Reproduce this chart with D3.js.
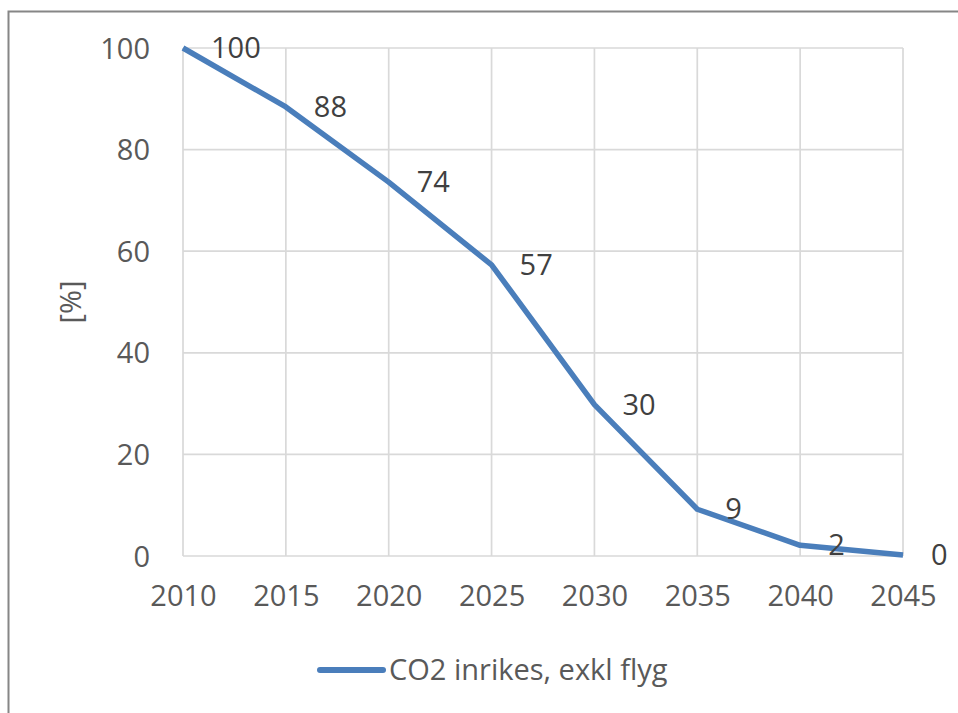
<!DOCTYPE html>
<html>
<head>
<meta charset="utf-8">
<script src="https://cdn.jsdelivr.net/npm/d3@7"></script>
<style>
  html, body { margin: 0; padding: 0; background: #fff; }
  svg { display: block; }
</style>
</head>
<body>
<script>
const years = [2010, 2015, 2020, 2025, 2030, 2035, 2040, 2045];
const values = [100, 88.4, 73.6, 57.3, 29.8, 9.2, 2.1, 0.2];
const yTicks = [0, 20, 40, 60, 80, 100];
const seriesName = "CO2 inrikes, exkl flyg";
const yTitle = "[%]";

(function () {
const W = 958, H = 713;
const FONT = "'Open Sans', 'Noto Sans', sans-serif";
const FS = 29;
const pLeft = 183, pRight = 903, pTop = 48, pBottom = 556;

const svg = d3.select("body").append("svg").attr("width", W).attr("height", H);
svg.append("rect").attr("width", W).attr("height", H).attr("fill", "#fff");

// chart border
svg.append("rect")
  .attr("x", 8.5).attr("y", 11.5).attr("width", 960).attr("height", 720)
  .attr("fill", "none").attr("stroke", "#868686").attr("stroke-width", 2);

const x = d3.scaleLinear().domain([2010, 2045]).range([pLeft, pRight]);
const y = d3.scaleLinear().domain([0, 100]).range([pBottom, pTop]);

// gridlines
svg.append("g").selectAll("line").data(yTicks).join("line")
  .attr("x1", pLeft).attr("x2", pRight)
  .attr("y1", d => y(d)).attr("y2", d => y(d))
  .attr("stroke", "#d9d9d9").attr("stroke-width", 1.7);
svg.append("g").selectAll("line").data(years).join("line")
  .attr("x1", d => x(d)).attr("x2", d => x(d))
  .attr("y1", y(0)).attr("y2", y(100))
  .attr("stroke", "#d9d9d9").attr("stroke-width", 1.7);

// y axis labels
const yAxis = svg.append("g").attr("transform", `translate(${pLeft},0)`)
  .call(d3.axisLeft(y).tickValues(yTicks).tickSize(0).tickPadding(33).tickFormat(d3.format("d")));
yAxis.select(".domain").remove();
yAxis.selectAll("text").attr("font-family", FONT).attr("font-size", FS).attr("fill", "#595959")
  .attr("dy", "0.35em");

// x axis labels
const xAxis = svg.append("g").attr("transform", `translate(0,${pBottom})`)
  .call(d3.axisBottom(x).tickValues(years).tickSize(0).tickPadding(29).tickFormat(d3.format("d")));
xAxis.select(".domain").remove();
xAxis.selectAll("text").attr("font-family", FONT).attr("font-size", FS).attr("fill", "#595959");

// y title
svg.append("text")
  .attr("transform", `translate(71,${(pTop + pBottom) / 2}) rotate(-90)`)
  .attr("text-anchor", "middle").attr("dy", "0.35em")
  .attr("font-family", FONT).attr("font-size", FS).attr("fill", "#595959")
  .text(yTitle);

// line
const line = d3.line().x((d, i) => x(years[i])).y(d => y(d));
svg.append("path").datum(values)
  .attr("d", line).attr("fill", "none")
  .attr("stroke", "#4a7ebb").attr("stroke-width", 5.5)
  .attr("stroke-linejoin", "round").attr("stroke-linecap", "butt");

// data labels
svg.append("g").selectAll("text").data(values).join("text")
  .attr("x", (d, i) => x(years[i]) + 28)
  .attr("y", d => y(d))
  .attr("dy", "0.35em")
  .attr("font-family", FONT).attr("font-size", FS).attr("fill", "#404040")
  .text(d => d3.format(".0f")(d));

// legend
const ly = 670;
svg.append("line").attr("x1", 320).attr("x2", 383).attr("y1", ly).attr("y2", ly)
  .attr("stroke", "#4a7ebb").attr("stroke-width", 6).attr("stroke-linecap", "round");
svg.append("text").attr("x", 389).attr("y", ly).attr("dy", "0.35em")
  .attr("font-family", FONT).attr("font-size", FS).attr("fill", "#595959")
  .text(seriesName);
})();
</script>
</body>
</html>
